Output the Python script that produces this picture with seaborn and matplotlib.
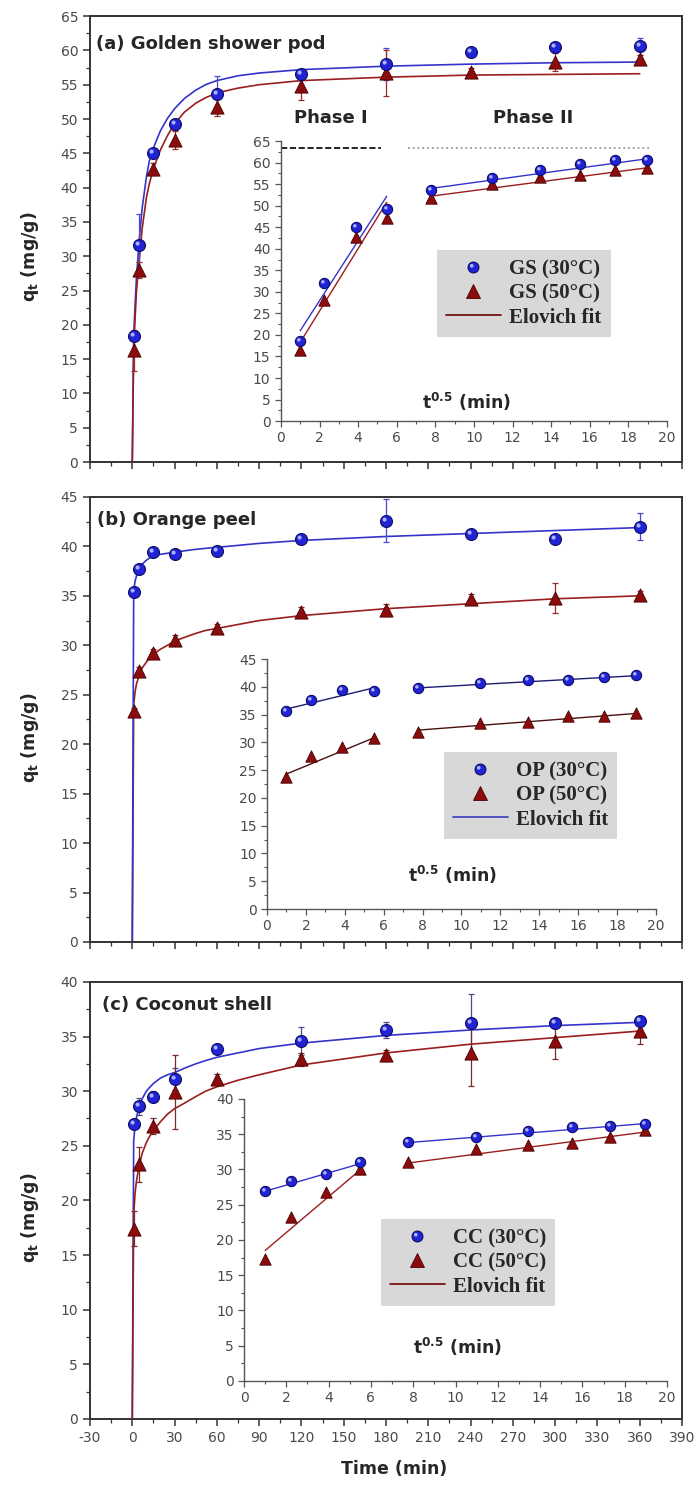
import numpy as np
import matplotlib
matplotlib.use("Agg")
import matplotlib.pyplot as plt
import seaborn as sns
from matplotlib.path import Path
from matplotlib.lines import Line2D
from matplotlib.ticker import MultipleLocator

# sampling times (min) and their square roots for the insets
time = [1, 5, 15, 30, 60, 120, 180, 240, 300, 360]
root_t = [1.0, 2.24, 3.87, 5.48, 7.75, 10.95, 13.42, 15.49, 17.32, 18.97]

# (a) golden shower pod
gs30 = [18.3, 31.7, 45.0, 49.2, 53.6, 56.5, 58.0, 59.7, 60.5, 60.6]
gs50 = [16.3, 28.0, 42.7, 47.0, 51.7, 54.8, 56.7, 56.9, 58.3, 58.7]
gs30_err = [0.5, 4.5, 0.6, 0.8, 2.7, 0.7, 2.3, 0.5, 0.6, 1.2]
gs50_err = [3.0, 1.2, 0.9, 1.3, 1.2, 2.1, 3.4, 0.5, 1.3, 0.7]
gs30_in = [18.6, 32.0, 45.0, 49.3, 53.6, 56.5, 58.2, 59.6, 60.5, 60.7]
gs50_in = [16.4, 28.2, 42.7, 47.1, 51.8, 55.0, 56.7, 57.2, 58.2, 58.8]

# (b) orange peel
op30 = [35.4, 37.7, 39.4, 39.2, 39.5, 40.7, 42.6, 41.2, 40.7, 42.0]
op50 = [23.4, 27.4, 29.2, 30.5, 31.7, 33.4, 33.6, 34.7, 34.8, 35.1]
op30_err = [0.4, 0.3, 0.4, 0.3, 0.4, 0.4, 2.2, 0.4, 0.3, 1.4]
op50_err = [0.3, 0.4, 0.4, 0.5, 0.5, 0.5, 0.6, 0.5, 1.5, 0.4]
op30_in = [35.6, 37.6, 39.4, 39.3, 39.7, 40.7, 41.2, 41.2, 41.7, 42.1]
op50_in = [23.7, 27.5, 29.2, 30.7, 31.8, 33.5, 33.7, 34.7, 34.8, 35.2]

# (c) coconut shell
cc30 = [27.0, 28.6, 29.5, 31.1, 33.9, 34.6, 35.6, 36.2, 36.2, 36.4]
cc50 = [17.4, 23.3, 26.8, 29.9, 31.1, 32.9, 33.3, 33.5, 34.6, 35.5]
cc30_err = [0.4, 0.8, 0.5, 1.0, 0.4, 1.3, 0.7, 2.7, 0.4, 0.4]
cc50_err = [1.6, 1.6, 0.7, 3.4, 0.5, 0.6, 0.5, 3.0, 1.7, 1.2]
cc30_in = [27.0, 28.4, 29.4, 31.0, 33.9, 34.6, 35.5, 36.0, 36.1, 36.4]
cc50_in = [17.3, 23.3, 26.8, 30.0, 31.1, 32.9, 33.4, 33.7, 34.6, 35.6]

# fitted curves
fit_t = [0, 1, 2, 3, 5, 7, 10, 12, 15, 20, 25, 30, 37, 45, 52, 60, 75, 90, 120, 180, 240, 300, 360]
gs30_fit = [0, 18.5, 23.0, 27.0, 32.5, 37.0, 41.5, 43.8, 45.8, 48.3, 50.1, 51.5, 53.0, 54.2, 55.0, 55.6,
            56.3, 56.7, 57.2, 57.7, 58.0, 58.2, 58.3]
gs50_fit = [0, 16.0, 21.0, 25.0, 29.5, 34.0, 38.5, 40.5, 42.8, 45.5, 47.6, 49.3, 51.0, 52.3, 53.1, 53.8,
            54.5, 55.0, 55.6, 56.1, 56.4, 56.5, 56.6]
op30_fit = [0, 35.5, 36.5, 37.0, 37.7, 38.2, 38.6, 38.8, 39.0, 39.2, 39.3, 39.4, 39.55, 39.7, 39.8, 39.9,
            40.1, 40.3, 40.6, 41.0, 41.3, 41.6, 41.9]
op50_fit = [0, 24.0, 25.3, 26.1, 27.0, 27.7, 28.3, 28.7, 29.1, 29.6, 30.0, 30.4, 30.8, 31.2, 31.5, 31.7,
            32.1, 32.5, 33.0, 33.7, 34.2, 34.7, 35.0]
cc30_fit = [0, 25.5, 26.8, 27.6, 28.7, 29.3, 30.0, 30.3, 30.7, 31.2, 31.5, 31.7, 32.1, 32.5, 32.8, 33.1,
            33.5, 33.9, 34.4, 35.1, 35.6, 36.0, 36.3]
cc50_fit = [0, 18.7, 20.7, 21.8, 23.3, 24.3, 25.3, 25.8, 26.4, 27.2, 27.9, 28.4, 28.9, 29.5, 30.0, 30.4,
            31.0, 31.5, 32.4, 33.5, 34.3, 34.9, 35.5]

# inset linear segments (phase I and phase II)
ph1_x = [1.0, 5.48]
ph2_x = [7.75, 18.97]
gs30_ph1 = [21.0, 52.2]
gs50_ph1 = [18.3, 50.8]
gs30_ph2 = [54.0, 60.9]
gs50_ph2 = [52.2, 58.8]
op30_ph1 = [36.0, 39.8]
op50_ph1 = [24.3, 30.8]
op30_ph2 = [39.8, 42.0]
op50_ph2 = [32.2, 35.2]
cc30_ph1 = [26.9, 30.8]
cc50_ph1 = [18.5, 29.9]
cc30_ph2 = [33.8, 36.5]
cc50_ph2 = [30.9, 35.3]

# phase guide lines in inset (a)
guide_level = 63.4
guide1_x = [0.0, 5.2]
guide2_x = [6.6, 19.1]

BLUE = "#2323d6"
BLUE_EDGE = "#0c0c66"
BLUE_HI = "#aab3ff"
RED = "#8a0c0c"
RED_EDGE = "#4a0000"
BLUE_LINE = "#3434cc"
RED_LINE = "#9a1e1e"
TICK_C = "#4a4a4a"
HIGHLIGHT = Path.circle((-0.16, 0.16), 0.17)

sns.set_style("ticks")
plt.rcParams["font.family"] = ["DejaVu Sans"]
plt.rcParams["mathtext.fontset"] = "dejavusans"
plt.rcParams["axes.unicode_minus"] = False


def balls(ax, x, y, size):
    sns.scatterplot(x=x, y=y, ax=ax, marker="o", s=size ** 2, color=BLUE,
                    edgecolor=BLUE_EDGE, linewidth=0.8, zorder=5, legend=False)
    sns.scatterplot(x=x, y=y, ax=ax, marker=HIGHLIGHT, s=(0.66 * size) ** 2,
                    color=BLUE_HI, linewidth=0, zorder=6, legend=False)


def triangles(ax, x, y, size):
    sns.scatterplot(x=x, y=y, ax=ax, marker="^", s=size ** 2, color=RED,
                    edgecolor=RED_EDGE, linewidth=0.6, zorder=5, legend=False)


def setup_main(ax, ymax, show_x):
    ax.set_xlim(-30, 390)
    ax.set_ylim(0, ymax)
    ax.xaxis.set_major_locator(MultipleLocator(30))
    ax.xaxis.set_minor_locator(MultipleLocator(15))
    ax.yaxis.set_major_locator(MultipleLocator(5))
    ax.yaxis.set_minor_locator(MultipleLocator(2.5))
    ax.tick_params(which="both", direction="out", top=False, right=False,
                   color="#333333", labelcolor=TICK_C, labelsize=10)
    ax.tick_params(which="major", length=5, width=1.1)
    ax.tick_params(which="minor", length=3, width=0.9)
    for s in ax.spines.values():
        s.set_color("#333333")
        s.set_linewidth(1.4)
    if not show_x:
        ax.tick_params(labelbottom=False)
        ax.set_xlabel("")
    ax.set_ylabel(r"$\mathbf{q_t}$ (mg/g)", fontsize=12.5, fontweight="bold")
    ax.yaxis.set_label_coords(-0.083, 0.46)


def setup_inset(ax, ymax, lab_x, lab_y):
    ax.set_facecolor("none")
    ax.set_xlim(0, 20)
    ax.set_ylim(0, ymax)
    ax.xaxis.set_major_locator(MultipleLocator(2))
    ax.xaxis.set_minor_locator(MultipleLocator(1))
    ax.yaxis.set_major_locator(MultipleLocator(5))
    ax.yaxis.set_minor_locator(MultipleLocator(2.5))
    ax.spines["top"].set_visible(False)
    ax.spines["right"].set_visible(False)
    for side in ["left", "bottom"]:
        ax.spines[side].set_color("#555555")
        ax.spines[side].set_linewidth(1.0)
    ax.tick_params(which="both", direction="out", color="#555555",
                   labelcolor=TICK_C, labelsize=10)
    ax.tick_params(which="major", length=4, width=0.9)
    ax.tick_params(which="minor", length=2, width=0.8)
    ax.set_xlabel("")
    ax.set_ylabel("")
    ax.text(lab_x, lab_y, r"$\mathbf{t^{0.5}}$ (min)", transform=ax.transAxes,
            ha="center", va="center", fontsize=12.5, fontweight="bold")


def segments(ax, y1, y2, color):
    sns.lineplot(x=ph1_x, y=y1, ax=ax, color=color, lw=1.0, zorder=3)
    sns.lineplot(x=ph2_x, y=y2, ax=ax, color=color, lw=1.0, zorder=3)


def add_legend(fig, anchor, code, line_color):
    ball = (Line2D([], [], ls="none", marker="o", ms=7.8, mfc=BLUE, mec=BLUE_EDGE, mew=0.8),
            Line2D([], [], ls="none", marker=HIGHLIGHT, ms=0.66 * 7.8, mfc=BLUE_HI, mew=0))
    tri = Line2D([], [], ls="none", marker="^", ms=9.8, mfc=RED, mec=RED_EDGE, mew=0.6)
    fit = Line2D([], [], color=line_color, lw=1.3)
    fig.legend([ball, tri, fit], [code + " (30°C)", code + " (50°C)", "Elovich fit"],
               loc="upper left", bbox_to_anchor=anchor, borderaxespad=0,
               prop={"family": "Liberation Serif", "weight": "bold", "size": 15},
               facecolor="#d8d8d8", edgecolor="none", framealpha=1, fancybox=False,
               borderpad=0.45, labelspacing=0.2, handlelength=2.6, handletextpad=0.4)


def main_panel(ax, y30, y50, e30, e50, f30, f50, red_on_top, ecol30, ecol50):
    if red_on_top:
        sns.lineplot(x=fit_t, y=f30, ax=ax, color=BLUE_LINE, lw=1.2, zorder=2)
        sns.lineplot(x=fit_t, y=f50, ax=ax, color=RED_LINE, lw=1.2, zorder=2)
    else:
        sns.lineplot(x=fit_t, y=f50, ax=ax, color=RED_LINE, lw=1.2, zorder=2)
        sns.lineplot(x=fit_t, y=f30, ax=ax, color=BLUE_LINE, lw=1.2, zorder=2)
    ax.errorbar(time, y30, yerr=e30, fmt="none", ecolor=ecol30, elinewidth=0.9,
                capsize=2.5, capthick=0.9, zorder=4)
    ax.errorbar(time, y50, yerr=e50, fmt="none", ecolor=ecol50, elinewidth=0.9,
                capsize=2.5, capthick=0.9, zorder=4)
    triangles(ax, time, y50, 9.5)
    balls(ax, time, y30, 8.6)


fig = plt.figure(figsize=(6.96, 14.9), dpi=100)
ax_a = fig.add_axes([0.1293, 0.6899, 0.8506, 0.2993])
ax_b = fig.add_axes([0.1293, 0.3678, 0.8506, 0.2987])
ax_c = fig.add_axes([0.1293, 0.0477, 0.8506, 0.2933])
in_a = fig.add_axes([0.4037, 0.7174, 0.5546, 0.1879])
in_b = fig.add_axes([0.3836, 0.3899, 0.5589, 0.1678])
in_c = fig.add_axes([0.3506, 0.0732, 0.6078, 0.1893])

# (a)
main_panel(ax_a, gs30, gs50, gs30_err, gs50_err, gs30_fit, gs50_fit, True, "#4a4ac8", "#9a2a2a")
setup_main(ax_a, 65, False)
ax_a.text(0.01, 0.937, "(a) Golden shower pod", transform=ax_a.transAxes,
          fontsize=13, fontweight="bold", va="center")
segments(in_a, gs30_ph1, gs30_ph2, BLUE_LINE)
segments(in_a, gs50_ph1, gs50_ph2, RED_LINE)
in_a.hlines(guide_level, guide1_x[0], guide1_x[1], colors="black", linestyles="--", lw=1.2)
in_a.hlines(guide_level, guide2_x[0], guide2_x[1], colors="#999999", linestyles=":", lw=1.3)
triangles(in_a, root_t, gs50_in, 8.2)
balls(in_a, root_t, gs30_in, 7.4)
setup_inset(in_a, 65, 0.482, 0.068)
fig.text(0.4756, 0.9208, "Phase I", ha="center", va="center", fontsize=13, fontweight="bold")
fig.text(0.7658, 0.9208, "Phase II", ha="center", va="center", fontsize=13, fontweight="bold")
add_legend(fig, (0.6279, 0.8322), "GS", "#6e1414")

# (b)
main_panel(ax_b, op30, op50, op30_err, op50_err, op30_fit, op50_fit, False, "#4a4ac8", "#9a2a2a")
setup_main(ax_b, 45, False)
ax_b.text(0.012, 0.949, "(b) Orange peel", transform=ax_b.transAxes,
          fontsize=13, fontweight="bold", va="center")
segments(in_b, op30_ph1, op30_ph2, "#1c1c70")
segments(in_b, op50_ph1, op50_ph2, "#4a1010")
triangles(in_b, root_t, op50_in, 8.2)
balls(in_b, root_t, op30_in, 7.4)
setup_inset(in_b, 45, 0.478, 0.136)
add_legend(fig, (0.6379, 0.4953), "OP", "#4646c0")

# (c)
main_panel(ax_c, cc30, cc50, cc30_err, cc50_err, cc30_fit, cc50_fit, True, "#4a4a90", "#7a2a2a")
setup_main(ax_c, 40, True)
ax_c.text(0.02, 0.948, "(c) Coconut shell", transform=ax_c.transAxes,
          fontsize=13, fontweight="bold", va="center")
segments(in_c, cc30_ph1, cc30_ph2, BLUE_LINE)
segments(in_c, cc50_ph1, cc50_ph2, RED_LINE)
triangles(in_c, root_t, cc50_in, 8.2)
balls(in_c, root_t, cc30_in, 7.4)
setup_inset(in_c, 40, 0.506, 0.12)
add_legend(fig, (0.5474, 0.1819), "CC", "#7a1616")

ax_c.set_xlabel("Time (min)", fontsize=12.5, fontweight="bold")
ax_c.xaxis.set_label_coords(0.513, -0.095)

fig.savefig("out.png", dpi=100)
